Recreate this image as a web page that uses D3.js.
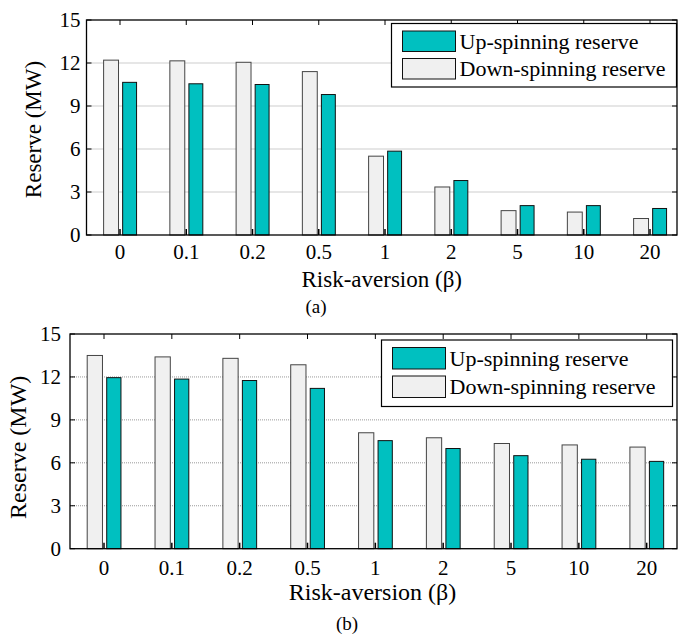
<!DOCTYPE html>
<html>
<head>
<meta charset="utf-8">
<script src="https://cdn.jsdelivr.net/npm/d3@7/dist/d3.min.js"></script>
<style>
  html, body { margin: 0; padding: 0; background: #fff; }
  svg { display: block; }
</style>
</head>
<body>
<svg id="chart" width="679" height="635" font-family="'Liberation Serif', 'Times New Roman', Tinos, 'DejaVu Serif', serif"></svg>
<script>
// ---- data ----
const categories = ["0", "0.1", "0.2", "0.5", "1", "2", "5", "10", "20"];
const yTicks = [0, 3, 6, 9, 12, 15];
const seriesNames = ["Up-spinning reserve", "Down-spinning reserve"];
// panel (a)
const upA   = [10.65, 10.55, 10.5, 9.8, 5.85, 3.8, 2.05, 2.05, 1.85];
const downA = [12.2, 12.15, 12.05, 11.4, 5.5, 3.35, 1.7, 1.6, 1.15];
// panel (b)
const upB   = [11.95, 11.85, 11.75, 11.2, 7.55, 7.0, 6.5, 6.25, 6.1];
const downB = [13.5, 13.4, 13.3, 12.85, 8.1, 7.75, 7.35, 7.25, 7.1];

const teal = "#00c0c0";
const light = "#f0f0f0";
const FONT = "'Liberation Serif', 'Times New Roman', Tinos, 'DejaVu Serif', serif";

const svg = d3.select("#chart");

function panel(o) {
  const g = svg.append("g").attr("font-family", FONT);
  const x = d3.scaleLinear().domain([0, categories.length - 1]).range([o.c0, o.c8]);
  const y = d3.scaleLinear().domain([0, 15]).range([o.bottom, o.top]);
  const step = x(1) - x(0);

  // grid
  g.selectAll(".grid").data(yTicks.filter(t => t > 0 && t < 15)).enter()
    .append("line")
    .attr("x1", o.left).attr("x2", o.right)
    .attr("y1", d => y(d)).attr("y2", d => y(d))
    .attr("stroke", "#9a9a9a").attr("stroke-width", 1)
    .attr("stroke-dasharray", "1,1");

  const idx = d3.range(categories.length);
  // down-spinning (light) bars
  g.selectAll(".down").data(idx).enter().append("rect")
    .attr("x", i => x(i) - 0.255 * step + 0.5)
    .attr("width", 0.225 * step)
    .attr("y", i => y(o.down[i]))
    .attr("height", i => y(0) - y(o.down[i]))
    .attr("fill", light).attr("stroke", "#444").attr("stroke-width", 1);
  // up-spinning (teal) bars
  g.selectAll(".up").data(idx).enter().append("rect")
    .attr("x", i => x(i) + 0.04 * step)
    .attr("width", 0.21 * step)
    .attr("y", i => y(o.up[i]))
    .attr("height", i => y(0) - y(o.up[i]))
    .attr("fill", teal).attr("stroke", "#111").attr("stroke-width", 1);

  // axes box
  g.append("rect")
    .attr("x", o.left).attr("y", o.top)
    .attr("width", o.right - o.left).attr("height", o.bottom - o.top)
    .attr("fill", "none").attr("stroke", "#000").attr("stroke-width", 1.3);

  // x ticks (inward, top & bottom)
  idx.forEach(i => {
    g.append("line").attr("x1", x(i)).attr("x2", x(i))
      .attr("y1", o.bottom).attr("y2", o.bottom - 6)
      .attr("stroke", "#000").attr("stroke-width", 1.5);
    g.append("line").attr("x1", x(i)).attr("x2", x(i))
      .attr("y1", o.top).attr("y2", o.top + 5)
      .attr("stroke", "#000").attr("stroke-width", 1);
  });
  // y ticks (inward, left & right)
  yTicks.forEach(t => {
    g.append("line").attr("x1", o.left).attr("x2", o.left + 5)
      .attr("y1", y(t)).attr("y2", y(t)).attr("stroke", "#000");
    g.append("line").attr("x1", o.right).attr("x2", o.right - 5)
      .attr("y1", y(t)).attr("y2", y(t)).attr("stroke", "#000");
  });

  // x tick labels
  g.selectAll(".xl").data(idx).enter().append("text")
    .attr("x", i => x(i)).attr("y", o.xTickY)
    .attr("text-anchor", "middle").attr("font-size", 21)
    .text(i => categories[i]);
  // y tick labels
  g.selectAll(".yl").data(yTicks).enter().append("text")
    .attr("x", o.left - o.yTickGap).attr("y", d => y(d))
    .attr("dy", "0.35em")
    .attr("text-anchor", "end").attr("font-size", 21)
    .text(d => d);

  // axis titles
  g.append("text")
    .attr("x", (o.left + o.right) / 2 + o.xLabelDx).attr("y", o.xLabelY)
    .attr("text-anchor", "middle").attr("font-size", o.labelSize)
    .text("Risk-aversion (β)");
  g.append("text")
    .attr("transform", `translate(${o.yLabelX},${(o.top + o.bottom) / 2 + o.yLabelDy}) rotate(-90)`)
    .attr("text-anchor", "middle").attr("font-size", o.labelSize)
    .text("Reserve (MW)");
  g.append("text")
    .attr("x", o.capX).attr("y", o.capY)
    .attr("text-anchor", "middle").attr("font-size", 19)
    .text(o.caption);

  // legend
  const L = o.legend;
  g.append("rect").attr("x", L.x).attr("y", L.y).attr("width", L.w).attr("height", L.h)
    .attr("fill", "#fff").attr("stroke", "#000").attr("stroke-width", 1.2);
  const fills = [teal, light];
  seriesNames.forEach((name, k) => {
    g.append("rect")
      .attr("x", L.x + 11).attr("y", L.y + L.pad + k * L.row)
      .attr("width", 53).attr("height", L.row - 7)
      .attr("fill", fills[k]).attr("stroke", "#111").attr("stroke-width", 1);
    g.append("text")
      .attr("x", L.x + 68).attr("y", L.y + L.pad + k * L.row + (L.row - 7) / 2)
      .attr("dy", "0.35em").attr("font-size", 22)
      .text(name);
  });
}

panel({
  up: upA, down: downA,
  left: 86.5, right: 677, top: 20, bottom: 235,
  c0: 120, c8: 650,
  xTickY: 259, yTickGap: 6,
  xLabelY: 287, xLabelDx: 0, yLabelX: 41, yLabelDy: 2, labelSize: 23,
  caption: "(a)", capX: 316, capY: 313,
  legend: { x: 391.5, y: 23.5, w: 285, h: 63.5, pad: 7.5, row: 27.5 }
});

panel({
  up: upB, down: downB,
  left: 70, right: 677, top: 334, bottom: 548.7,
  c0: 104, c8: 646.7,
  xTickY: 575, yTickGap: 9,
  xLabelY: 600, xLabelDx: -1, yLabelX: 26, yLabelDy: 6, labelSize: 24,
  caption: "(b)", capX: 347, capY: 630,
  legend: { x: 381.5, y: 340, w: 291, h: 66.5, pad: 7.5, row: 28.5 }
});
</script>
</body>
</html>
